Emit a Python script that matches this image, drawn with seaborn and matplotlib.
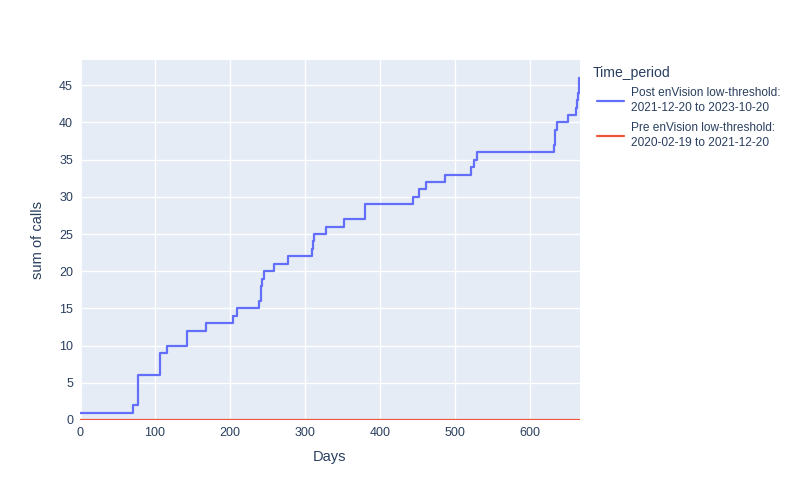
import numpy as np
import pandas as pd
import seaborn as sns
from matplotlib import pyplot as plt

# step points (day the cumulative count changes, value after the step)
post_days = [0, 71, 77, 107, 116, 143, 168, 204, 210, 239, 241, 242, 243, 246,
             259, 277, 309, 311, 312.5, 328, 352.5, 380, 444, 452, 461, 487,
             521, 525, 529, 632, 633, 634, 636, 651, 662, 663, 664, 665, 666, 667]
post_calls = [1, 2, 6, 9, 10, 12, 13, 14, 15, 16, 17, 18, 19, 20,
              21, 22, 23, 24, 25, 26, 27, 29, 30, 31, 32, 33,
              34, 35, 36, 37, 38, 39, 40, 41, 42, 43, 44, 45, 46, 46]
pre_days = [0, 667]
pre_calls = [0, 0]

post_label = 'Post enVision low-threshold:\n2021-12-20 to 2023-10-20'
pre_label = 'Pre enVision low-threshold:\n2020-02-19 to 2021-12-20'

df = pd.concat([
    pd.DataFrame({'Days': post_days, 'sum of calls': post_calls, 'Time_period': post_label}),
    pd.DataFrame({'Days': pre_days, 'sum of calls': pre_calls, 'Time_period': pre_label}),
])

sns.set_style('darkgrid', {'axes.facecolor': '#E5ECF6', 'grid.color': 'white'})
plt.rcParams['font.family'] = ['Liberation Sans', 'DejaVu Sans']
txt = '#2a3f5f'

fig = plt.figure(figsize=(8, 5), dpi=100)
ax = fig.add_axes([0.1, 0.16, 0.625, 0.72])
ax.axvline(0, color='white', lw=2, zorder=1)
sns.lineplot(data=df, x='Days', y='sum of calls', hue='Time_period',
             hue_order=[post_label, pre_label],
             palette=['#636efa', '#EF553B'], drawstyle='steps-post',
             estimator=None, lw=1.6, ax=ax, zorder=3)
# red (pre) line sits on the x axis, keep it visible
red = ax.get_lines()[-1]
red.set_clip_on(False)
red.set_linewidth(1.1)
ax.get_lines()[-2].set_clip_on(False)

ax.set_xlim(0, 667)
ax.set_ylim(0, 48.4)
ax.set_xticks(range(0, 700, 100))
ax.set_yticks(range(0, 50, 5))
ax.grid(True, color='white', lw=1)
for s in ax.spines.values():
    s.set_visible(False)
ax.tick_params(colors=txt, labelsize=9, length=0, pad=5)
ax.set_xlabel('Days', color=txt, fontsize=10.5, labelpad=8)
ax.set_ylabel('sum of calls', color=txt, fontsize=10.5, labelpad=10)

# legend title drawn separately so the entries can be indented like plotly
fig.text(0.741, 0.854, 'Time_period', color=txt, fontsize=10.1, va='center', ha='left')
leg = ax.legend(loc='upper left', bbox_to_anchor=(0.7325, 0.848),
                bbox_transform=fig.transFigure, frameon=False, fontsize=8.6,
                handlelength=2.3, handletextpad=0.6, labelcolor=txt,
                labelspacing=0.6)
for t in leg.get_texts():
    t.set_linespacing(1.4)
for h in leg.legend_handles:
    h.set_linewidth(1.6)

plt.savefig('out.png')
